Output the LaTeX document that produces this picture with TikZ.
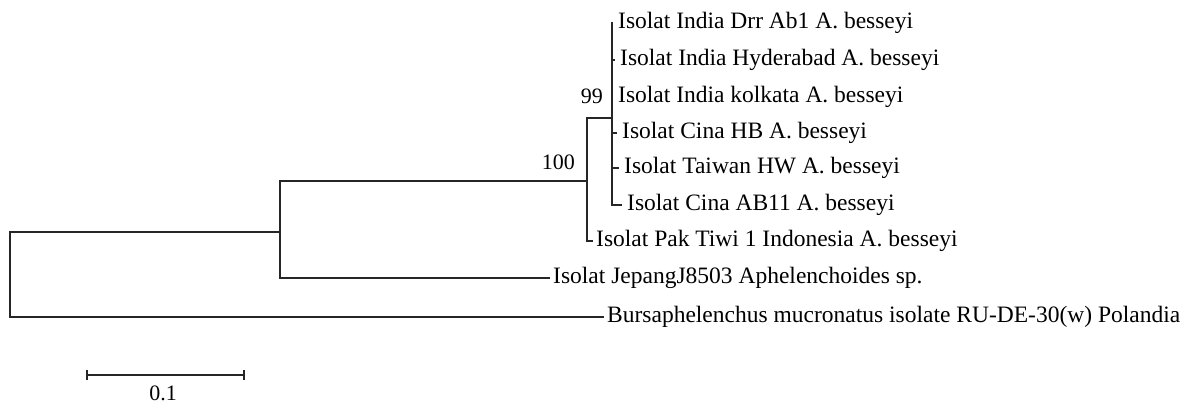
\documentclass[tikz,border=0pt]{standalone}
\usepackage{fontspec}
\setmainfont{Liberation Serif}
\usetikzlibrary{arrows.meta}

\begin{document}
\begin{tikzpicture}[x=1pt,y=-1pt,
  branch/.style={line width=1.6pt,black!85},
  taxon/.style={anchor=west,inner sep=0pt,font=\fontsize{23.5}{24}\selectfont},
  support/.style={anchor=east,inner sep=0pt,font=\fontsize{22}{24}\selectfont}]
\useasboundingbox (0,0) rectangle (1195,403);

% internal nodes of the tree
\coordinate (root) at (10,274.5);
\coordinate (nA)   at (280,232);
\coordinate (n100) at (587,181);
\coordinate (n99)  at (612,118);

% taxa
\node [taxon] (drr) at (618,23)  {Isolat India Drr Ab1 A. besseyi};
\node [taxon] (hyd) at (620,60)  {Isolat India Hyderabad A. besseyi};
\node [taxon] (kol) at (618,97)  {Isolat India kolkata A. besseyi};
\node [taxon] (hb)  at (622,133) {Isolat Cina HB A. besseyi};
\node [taxon] (hw)  at (624,168) {Isolat Taiwan HW A. besseyi};
\node [taxon] (ab)  at (627,205) {Isolat Cina AB11 A. besseyi};
\node [taxon] (pak) at (596,241) {Isolat Pak Tiwi 1 Indonesia A. besseyi};
\node [taxon] (jep) at (553,278) {Isolat JepangJ8503 Aphelenchoides sp.};
\node [taxon] (bur) at (607,317) {Bursaphelenchus mucronatus isolate RU-DE-30(w) Polandia};

% bootstrap values
\node [support] (bs99)  at (603,96)  {99};
\node [support] (bs100) at (575,162) {100};

% branches
\draw [branch,shorten >=3pt] (nA) -| (root) |- (bur.west);
\draw [branch,shorten >=3pt] (n100) -| (nA) |- (jep.west);
\draw [branch,shorten >=3pt] (n99) -| (n100) |- (pak.west);
\foreach \t in {drr,hyd,kol,hb,hw,ab}
  \draw [branch,shorten >=5pt] (n99) |- (\t.west);

% scale bar
\coordinate (sbL) at (86,375);
\coordinate (sbR) at (245,375);
\draw [branch,{Bar[width=10pt]}-{Bar[width=10pt]}] (sbL) -- (sbR);
\node [font=\fontsize{22}{24}\selectfont] (sblabel) at (163,393) {0.1};

\end{tikzpicture}
\end{document}
